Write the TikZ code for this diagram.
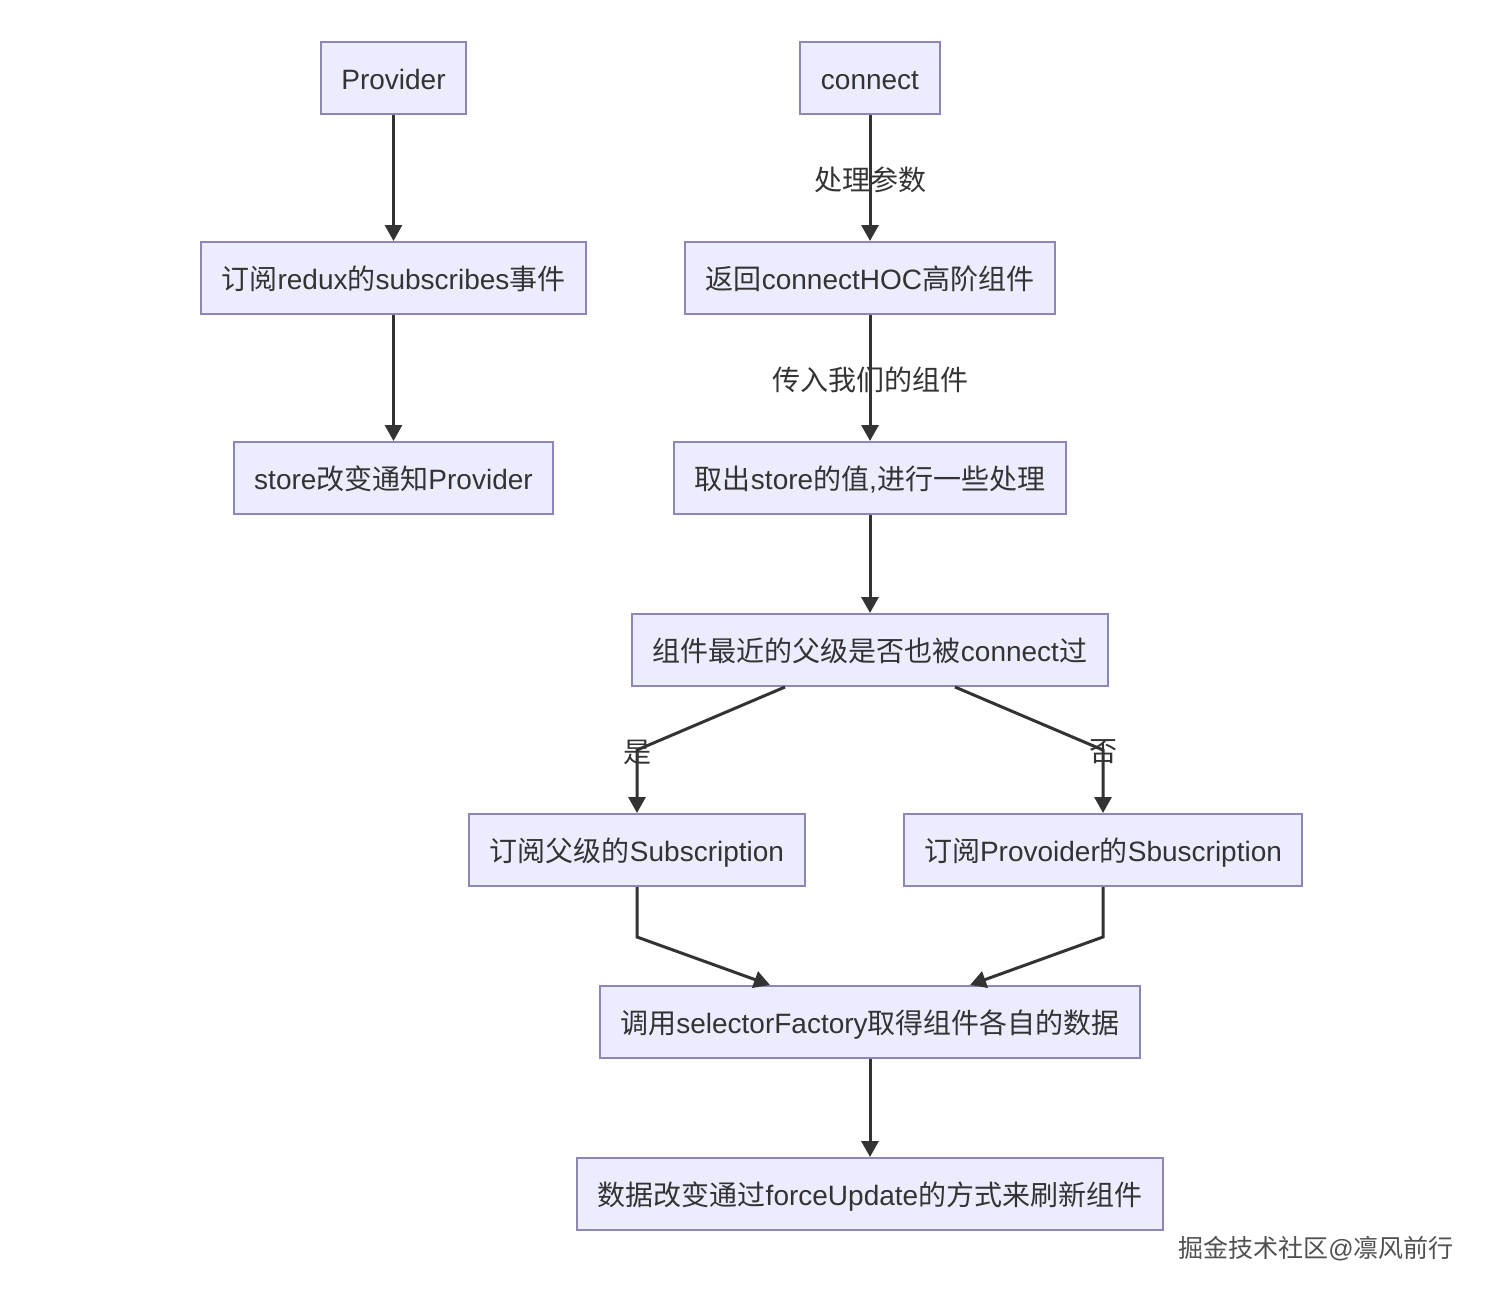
\documentclass[tikz,border=0pt]{standalone}
\usepackage{fontspec}
\setmainfont{Liberation Sans}
\newfontfamily\latinfont{Liberation Sans}
\newfontfamily\cjkfont{Noto Sans CJK SC}
% switch to the CJK font for Han characters
\XeTeXinterchartokenstate=1
\newXeTeXintercharclass\hanclass
\count255="4E00
\loop\ifnum\count255<"A000
  \XeTeXcharclass\count255=\hanclass
  \advance\count255 by 1
\repeat
\XeTeXinterchartoks 0 \hanclass = {\cjkfont}
\XeTeXinterchartoks 4095 \hanclass = {\cjkfont}
\XeTeXinterchartoks \hanclass 0 = {\latinfont}
\XeTeXinterchartoks \hanclass 4095 = {\latinfont}
\usetikzlibrary{arrows.meta}
\definecolor{boxfill}{HTML}{ECECFF}
\definecolor{boxline}{HTML}{8F86B8}
\definecolor{ink}{HTML}{333333}
\tikzset{
  box/.style={draw=boxline, fill=boxfill, line width=2pt, text=ink,
    minimum height=72pt, inner xsep=20.5pt, text height=25pt, text depth=3pt,
    font=\fontsize{28}{34}\selectfont},
  arr/.style={draw=ink, line width=3pt,
    -{Triangle[length=16pt,width=17pt]}},
  lbl/.style={text=ink, inner sep=0pt, font=\fontsize{28}{34}\selectfont}
}
\begin{document}
\begin{tikzpicture}[x=1pt,y=-1pt]
	\useasboundingbox[fill=white] (0,0) rectangle (1492,1296);
	% left column
	\node[box] (provider) at (393.5,78) {Provider};
	\node[box] (subRedux) at (393.5,278) {订阅redux的subscribes事件};
	\node[box] (notify) at (393.5,478) {store改变通知Provider};
	% right column
	\node[box] (connect) at (870,78) {connect};
	\node[box] (hoc) at (870,278) {返回connectHOC高阶组件};
	\node[box] (takeStore) at (870,478) {取出store的值,进行一些处理};
	\node[box] (parent) at (870,650) {组件最近的父级是否也被connect过};
	\node[box] (subParent) at (637,850) {订阅父级的Subscription};
	\node[box] (subProv) at (1103,850) {订阅Provoider的Sbuscription};
	\node[box] (select) at (870,1022) {调用selectorFactory取得组件各自的数据};
	\node[box] (update) at (870,1194) {数据改变通过forceUpdate的方式来刷新组件};
	% edges
	\draw[arr] (provider) -- (subRedux);
	\draw[arr] (subRedux) -- (notify);
	\draw[arr] (connect) -- (hoc);
	\draw[arr] (hoc) -- (takeStore);
	\draw[arr] (takeStore) -- (parent);
	\draw[arr] ([xshift=-85pt]parent.south) -- (637,750) -- (subParent.north);
	\draw[arr] ([xshift=85pt]parent.south) -- (1103,750) -- (subProv.north);
	\draw[arr] (subParent.south) -- ++(0,50) -- ([xshift=-100pt]select.north);
	\draw[arr] (subProv.south) -- ++(0,50) -- ([xshift=100pt]select.north);
	\draw[arr] (select) -- (update);
	% edge labels
	\node[lbl] (lArgs) at (870,180) {处理参数};
	\node[lbl] (lComp) at (870,380) {传入我们的组件};
	\node[lbl] (lYes) at (637,752) {是};
	\node[lbl] (lNo) at (1103,752) {否};
	% watermark
	\node[text={rgb,255:red,80;green,80;blue,80}, inner sep=0pt,
	  font=\fontsize{25}{30}\selectfont] (mark) at (1316,1249) {掘金技术社区@凛风前行};
\end{tikzpicture}
\end{document}
